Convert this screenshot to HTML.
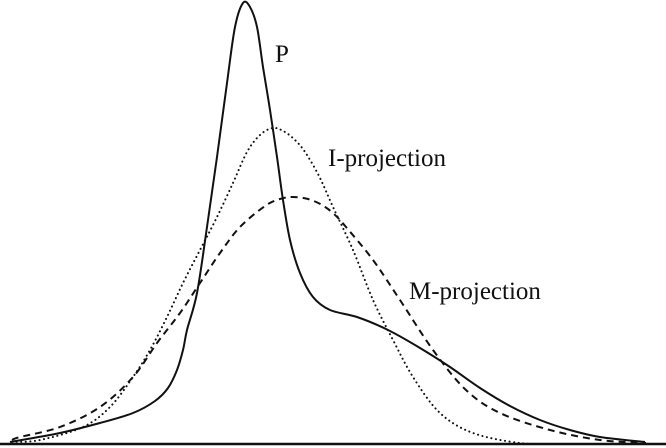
<!DOCTYPE html>
<html><head><style>
html,body{margin:0;padding:0;background:#fff;}
svg{display:block;}
text{font-family:"Liberation Serif",serif;font-size:25px;fill:#111;}
</style></head><body>
<svg id="s" width="666" height="448" viewBox="0 0 666 448">
<line x1="0" y1="444" x2="666" y2="444" stroke="#111" stroke-width="2.5"/>
<path id="p" fill="none" stroke="#111" stroke-width="2"/>
<path id="i" fill="none" stroke="#111" stroke-width="2" stroke-dasharray="0.1 4.5" stroke-linecap="round"/>
<path id="m" fill="none" stroke="#111" stroke-width="2" stroke-dasharray="7 5"/>
<text x="275" y="62">P</text>
<text x="328" y="166">I-projection</text>
<text x="409" y="299">M-projection</text>
</svg>
<script>
function cr(pts){
  var d="M"+pts[0][0]+","+pts[0][1];
  for(var k=0;k<pts.length-1;k++){
    var p0=pts[Math.max(0,k-1)],p1=pts[k],p2=pts[k+1],p3=pts[Math.min(pts.length-1,k+2)];
    var c1=[p1[0]+(p2[0]-p0[0])/6,p1[1]+(p2[1]-p0[1])/6];
    var c2=[p2[0]-(p3[0]-p1[0])/6,p2[1]-(p3[1]-p1[1])/6];
    d+="C"+c1[0].toFixed(1)+","+c1[1].toFixed(1)+" "+c2[0].toFixed(1)+","+c2[1].toFixed(1)+" "+p2[0]+","+p2[1];
  }
  return d;
}
var P=[[10,442],[60,433],[100,423],[133,413],[155,401],[168,388],[177,370],[183,350],[187,330],[197,293],[207,227],[217,157],[227,83],[235,27],[243,3],[250,7],[257,27],[263,67],[270,110],[277,157],[283,200],[290,240],[300,273],[313,297],[330,310],[357,317],[388,330],[420,348],[450,367],[480,388],[510,406],[540,420],[570,430],[600,437],[645,442]];
var I=[[12,442],[40,440],[83,427],[110,407],[133,377],[150,350],[167,317],[183,283],[200,250],[217,217],[233,183],[247,152],[260,135],[273,128],[285,132],[297,142],[307,155],[320,178],[333,207],[353,250],[373,300],[393,340],[413,377],[440,413],[473,433],[520,443],[560,444]];
var M=[[12,440],[20,437],[60,427],[100,407],[133,377],[157,343],[180,313],[200,283],[220,253],[240,227],[265,206],[280,199],[293,197],[308,199],[322,205],[334,214],[346,227],[373,260],[400,300],[433,350],[466,390],[500,413],[550,430],[600,440],[646,443]];
document.getElementById('p').setAttribute('d',cr(P));
document.getElementById('i').setAttribute('d',cr(I));
document.getElementById('m').setAttribute('d',cr(M));
</script>
</body></html>
